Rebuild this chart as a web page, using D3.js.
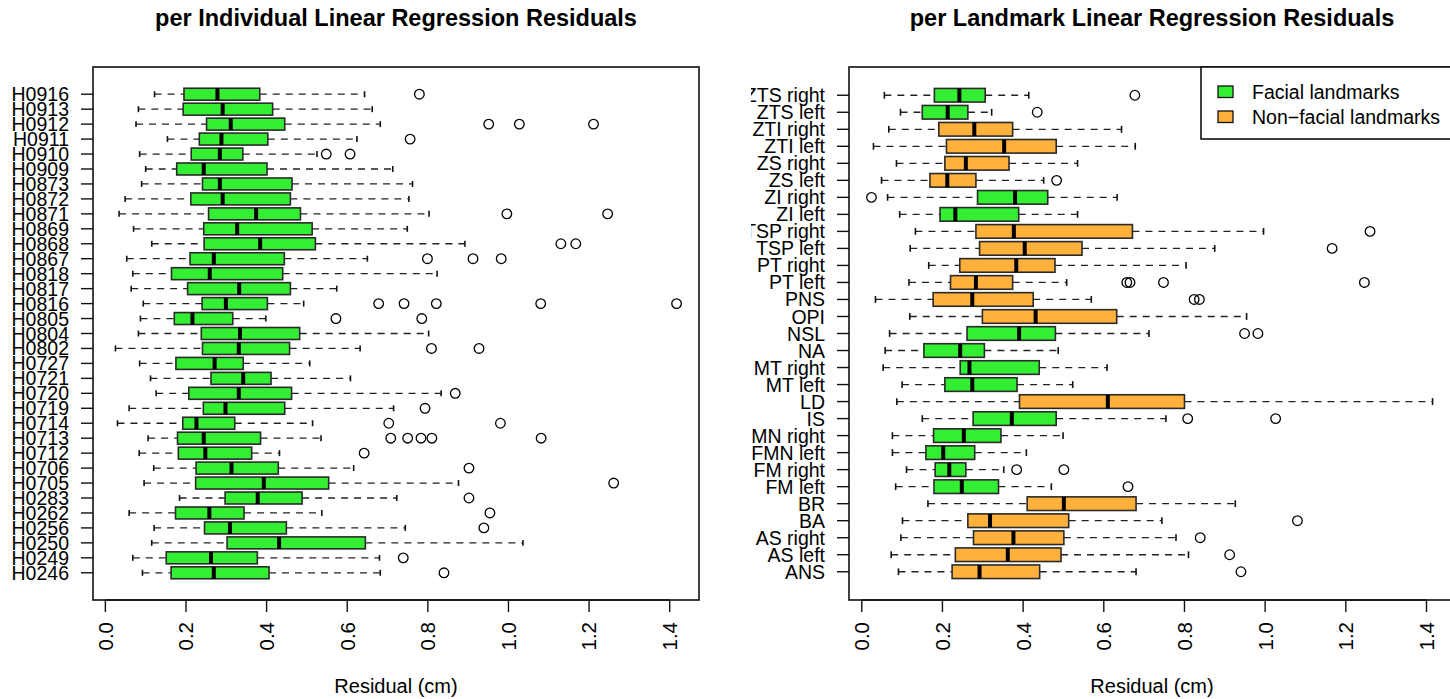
<!DOCTYPE html>
<html>
<head>
<meta charset="utf-8">
<script src="https://cdn.jsdelivr.net/npm/d3@7/dist/d3.min.js"></script>
<style>
  html, body { margin: 0; padding: 0; background: #fff; }
  svg { display: block; font-family: "Liberation Sans", Arial, Helvetica, sans-serif; }
</style>
</head>
<body>
<svg id="chart" width="1450" height="699"></svg>
<script>
// ---------- DATA (rows listed top to bottom as drawn) ----------
const indivNames = ["H0916","H0913","H0912","H0911","H0910","H0909","H0873","H0872","H0871","H0869","H0868","H0867","H0818","H0817","H0816","H0805","H0804","H0802","H0727","H0721","H0720","H0719","H0714","H0713","H0712","H0706","H0705","H0283","H0262","H0256","H0250","H0249","H0246"];
const indivLo  = [0.122,0.082,0.076,0.154,0.085,0.100,0.090,0.049,0.034,0.070,0.115,0.053,0.068,0.064,0.094,0.087,0.082,0.025,0.085,0.112,0.126,0.059,0.030,0.106,0.084,0.120,0.096,0.184,0.059,0.121,0.115,0.068,0.092];
const indivQ1  = [0.195,0.193,0.251,0.233,0.213,0.177,0.241,0.212,0.256,0.244,0.245,0.210,0.164,0.204,0.240,0.171,0.238,0.241,0.175,0.262,0.207,0.243,0.192,0.179,0.181,0.225,0.224,0.297,0.174,0.246,0.302,0.151,0.163];
const indivMed = [0.278,0.291,0.311,0.288,0.284,0.244,0.284,0.291,0.374,0.327,0.384,0.269,0.259,0.332,0.299,0.216,0.334,0.331,0.271,0.342,0.331,0.298,0.226,0.244,0.248,0.313,0.393,0.378,0.258,0.309,0.431,0.262,0.269];
const indivQ3  = [0.383,0.415,0.445,0.403,0.341,0.401,0.463,0.459,0.484,0.513,0.521,0.444,0.440,0.459,0.402,0.316,0.482,0.457,0.342,0.411,0.462,0.445,0.321,0.385,0.363,0.429,0.554,0.488,0.344,0.449,0.645,0.377,0.406];
const indivHi  = [0.643,0.662,0.682,0.624,0.525,0.713,0.762,0.753,0.803,0.749,0.892,0.650,0.823,0.574,0.492,0.398,0.802,0.632,0.507,0.608,0.833,0.715,0.514,0.535,0.432,0.616,0.876,0.723,0.537,0.744,1.036,0.680,0.682];
const indivOutliers = [[0.779],[],[0.951,1.027,1.211],[0.756],[0.548,0.607],[],[],[],[0.996,1.246],[],[1.130,1.167],[0.799,0.912,0.982],[],[],[0.678,0.741,0.821,1.080,1.417],[0.572,0.785],[],[0.809,0.927],[],[],[0.868],[0.793],[0.703,0.980],[0.708,0.750,0.783,0.810,1.081],[0.642],[0.902],[1.261],[0.902],[0.954],[0.939],[],[0.739],[0.840]];

const lmNames = ["ZTS right","ZTS left","ZTI right","ZTI left","ZS right","ZS left","ZI right","ZI left","TSP right","TSP left","PT right","PT left","PNS","OPI","NSL","NA","MT right","MT left","LD","IS","FMN right","FMN left","FM right","FM left","BR","BA","AS right","AS left","ANS"];
const lmFacial = [true,true,false,false,false,false,true,true,false,false,false,false,false,false,true,true,true,true,false,true,true,true,true,true,false,false,false,false,false];
const lmLo  = [0.056,0.096,0.067,0.029,0.086,0.049,0.064,0.094,0.133,0.120,0.166,0.117,0.034,0.119,0.069,0.058,0.053,0.100,0.087,0.150,0.076,0.076,0.111,0.084,0.164,0.101,0.097,0.073,0.091];
const lmQ1  = [0.180,0.150,0.191,0.210,0.206,0.169,0.287,0.194,0.283,0.292,0.243,0.220,0.177,0.299,0.261,0.154,0.244,0.206,0.391,0.276,0.178,0.159,0.182,0.179,0.410,0.263,0.277,0.232,0.224];
const lmMed = [0.242,0.213,0.279,0.353,0.258,0.212,0.380,0.232,0.377,0.404,0.383,0.283,0.274,0.431,0.390,0.244,0.267,0.274,0.610,0.372,0.253,0.202,0.217,0.248,0.501,0.318,0.376,0.362,0.292];
const lmQ3  = [0.306,0.263,0.374,0.482,0.365,0.283,0.461,0.389,0.671,0.546,0.479,0.374,0.425,0.632,0.480,0.304,0.440,0.385,0.800,0.482,0.345,0.280,0.258,0.339,0.680,0.513,0.501,0.494,0.441];
const lmHi  = [0.414,0.322,0.644,0.678,0.535,0.451,0.633,0.535,0.996,0.875,0.804,0.508,0.569,0.954,0.712,0.487,0.608,0.523,1.415,0.754,0.499,0.408,0.352,0.470,0.926,0.744,0.779,0.810,0.680];
const lmOutliers = [[0.677],[0.435],[],[],[],[0.483],[0.024],[],[1.260],[1.166],[],[0.657,0.665,0.748,1.246],[0.824,0.837],[],[0.949,0.982],[],[],[],[],[0.808,1.026],[],[],[0.384,0.501],[0.660],[],[1.080],[0.839],[0.912],[0.940]];

const xTicks = [0, 0.2, 0.4, 0.6, 0.8, 1.0, 1.2, 1.4];
const legendLabels = ["Facial landmarks", "Non\u2212facial landmarks"];
const titles = ["per Individual Linear Regression Residuals", "per Landmark Linear Regression Residuals"];
const xTitle = "Residual (cm)";

// ---------- STYLE ----------
const GREEN = "#33ee33", ORANGE = "#ffb13b";
const svg = d3.select("#chart");
svg.append("rect").attr("width", 1450).attr("height", 699).attr("fill", "#fff");

const defs = svg.append("defs");
defs.append("clipPath").attr("id", "clipLeftLabels")
  .append("rect").attr("x", 10).attr("y", 0).attr("width", 715).attr("height", 699);
defs.append("clipPath").attr("id", "clipRightLabels")
  .append("rect").attr("x", 751).attr("y", 0).attr("width", 699).attr("height", 699);

function drawPanel(cfg) {
  const n = cfg.names.length;
  const allVals = cfg.lo.concat(cfg.hi, cfg.outliers.flat());
  const dmin = d3.min(allVals), dmax = d3.max(allVals);
  const pad = 0.04 * (dmax - dmin);
  const x = d3.scaleLinear().domain([dmin - pad, dmax + pad]).range([cfg.left, cfg.right]);
  const y = d3.scaleLinear().domain([0.5 - 0.04 * n, n + 0.5 + 0.04 * n]).range([cfg.bottom, cfg.top]);
  const unit = Math.abs(y(1) - y(0));
  const halfBox = 0.4 * unit, halfStaple = 0.2 * unit;

  const g = svg.append("g");
  const rows = d3.range(n).map(i => ({
    i, pos: n - i, name: cfg.names[i], lo: cfg.lo[i], q1: cfg.q1[i], med: cfg.med[i],
    q3: cfg.q3[i], hi: cfg.hi[i], out: cfg.outliers[i], fill: cfg.fill(i)
  }));

  const rg = g.selectAll("g.row").data(rows).join("g").attr("class", "row");
  // whiskers (dashed)
  rg.append("line").attr("x1", d => x(d.lo)).attr("x2", d => x(d.q1))
    .attr("y1", d => y(d.pos)).attr("y2", d => y(d.pos))
    .attr("stroke", "#222").attr("stroke-width", 1.3).attr("stroke-dasharray", "7,6");
  rg.append("line").attr("x1", d => x(d.q3)).attr("x2", d => x(d.hi))
    .attr("y1", d => y(d.pos)).attr("y2", d => y(d.pos))
    .attr("stroke", "#222").attr("stroke-width", 1.3).attr("stroke-dasharray", "7,6");
  // staples
  ["lo", "hi"].forEach(k => {
    rg.append("line").attr("x1", d => x(d[k])).attr("x2", d => x(d[k]))
      .attr("y1", d => y(d.pos) - halfStaple).attr("y2", d => y(d.pos) + halfStaple)
      .attr("stroke", "#111").attr("stroke-width", 1.6);
  });
  // boxes
  rg.append("rect").attr("x", d => x(d.q1)).attr("width", d => x(d.q3) - x(d.q1))
    .attr("y", d => y(d.pos) - halfBox).attr("height", 2 * halfBox)
    .attr("fill", d => d.fill).attr("stroke", "#2a2a2a").attr("stroke-width", 1.6);
  // medians
  rg.append("line").attr("x1", d => x(d.med)).attr("x2", d => x(d.med))
    .attr("y1", d => y(d.pos) - halfBox).attr("y2", d => y(d.pos) + halfBox)
    .attr("stroke", "#000").attr("stroke-width", 4);
  // outliers
  rg.selectAll("circle").data(d => d.out.map(v => ({ v, pos: d.pos }))).join("circle")
    .attr("cx", d => x(d.v)).attr("cy", d => y(d.pos)).attr("r", 4.8)
    .attr("fill", "none").attr("stroke", "#000").attr("stroke-width", 1.3);

  // plot frame
  g.append("rect").attr("x", cfg.left).attr("y", cfg.top)
    .attr("width", cfg.right - cfg.left).attr("height", cfg.bottom - cfg.top)
    .attr("fill", "none").attr("stroke", "#111").attr("stroke-width", 1.6);

  // y axis ticks + labels
  g.selectAll("line.ytick").data(rows).join("line").attr("class", "ytick")
    .attr("x1", cfg.left).attr("x2", cfg.left - 12)
    .attr("y1", d => y(d.pos)).attr("y2", d => y(d.pos))
    .attr("stroke", "#111").attr("stroke-width", 1.4);
  g.append("g").attr("clip-path", `url(#${cfg.clipId})`)
    .selectAll("text").data(rows).join("text")
    .attr("x", cfg.left - 24).attr("y", d => y(d.pos)).attr("dy", "0.36em")
    .attr("text-anchor", "end").attr("font-size", 19.5).attr("fill", "#000")
    .text(d => d.name);

  // x axis (ticks below, labels perpendicular)
  const xa = g.append("g");
  xa.append("line").attr("x1", x(xTicks[0])).attr("x2", x(xTicks[xTicks.length - 1]))
    .attr("y1", cfg.bottom).attr("y2", cfg.bottom).attr("stroke", "#111").attr("stroke-width", 1.4);
  xa.selectAll("line.xt").data(xTicks).join("line").attr("class", "xt")
    .attr("x1", d => x(d)).attr("x2", d => x(d)).attr("y1", cfg.bottom).attr("y2", cfg.bottom + 12)
    .attr("stroke", "#111").attr("stroke-width", 1.4);
  xa.selectAll("text").data(xTicks).join("text")
    .attr("transform", d => `translate(${x(d)},${cfg.bottom + 22}) rotate(-90)`)
    .attr("dy", "0.36em").attr("text-anchor", "end").attr("font-size", 20.5)
    .text(d => d3.format(".1f")(d));

  // titles
  const cx = (cfg.left + cfg.right) / 2;
  g.append("text").attr("x", cx).attr("y", 26).attr("text-anchor", "middle")
    .attr("font-size", 23.5).attr("font-weight", "bold").text(cfg.title);
  g.append("text").attr("x", cx).attr("y", 693).attr("text-anchor", "middle")
    .attr("font-size", 20).text(xTitle);
  return { x, y };
}

drawPanel({
  names: indivNames, lo: indivLo, q1: indivQ1, med: indivMed, q3: indivQ3, hi: indivHi,
  outliers: indivOutliers, fill: () => GREEN, left: 93, right: 699, top: 67, bottom: 600,
  title: titles[0], clipId: "clipLeftLabels"
});
drawPanel({
  names: lmNames, lo: lmLo, q1: lmQ1, med: lmMed, q3: lmQ3, hi: lmHi,
  outliers: lmOutliers, fill: i => lmFacial[i] ? GREEN : ORANGE, left: 849, right: 1455, top: 67, bottom: 600,
  title: titles[1], clipId: "clipRightLabels"
});

// legend
const lg = svg.append("g");
lg.append("rect").attr("x", 1201).attr("y", 67).attr("width", 260).attr("height", 72)
  .attr("fill", "#fff").attr("stroke", "#111").attr("stroke-width", 1.6);
const legendColors = [GREEN, ORANGE];
lg.selectAll("rect.key").data(legendLabels).join("rect").attr("class", "key")
  .attr("x", 1218).attr("y", (d, i) => 86 + i * 25).attr("width", 15).attr("height", 11.5)
  .attr("fill", (d, i) => legendColors[i]).attr("stroke", "#111").attr("stroke-width", 1.3);
lg.selectAll("text").data(legendLabels).join("text")
  .attr("x", 1252).attr("y", (d, i) => 92 + i * 25).attr("dy", "0.36em")
  .attr("font-size", 19.5).text(d => d);
</script>
</body>
</html>
